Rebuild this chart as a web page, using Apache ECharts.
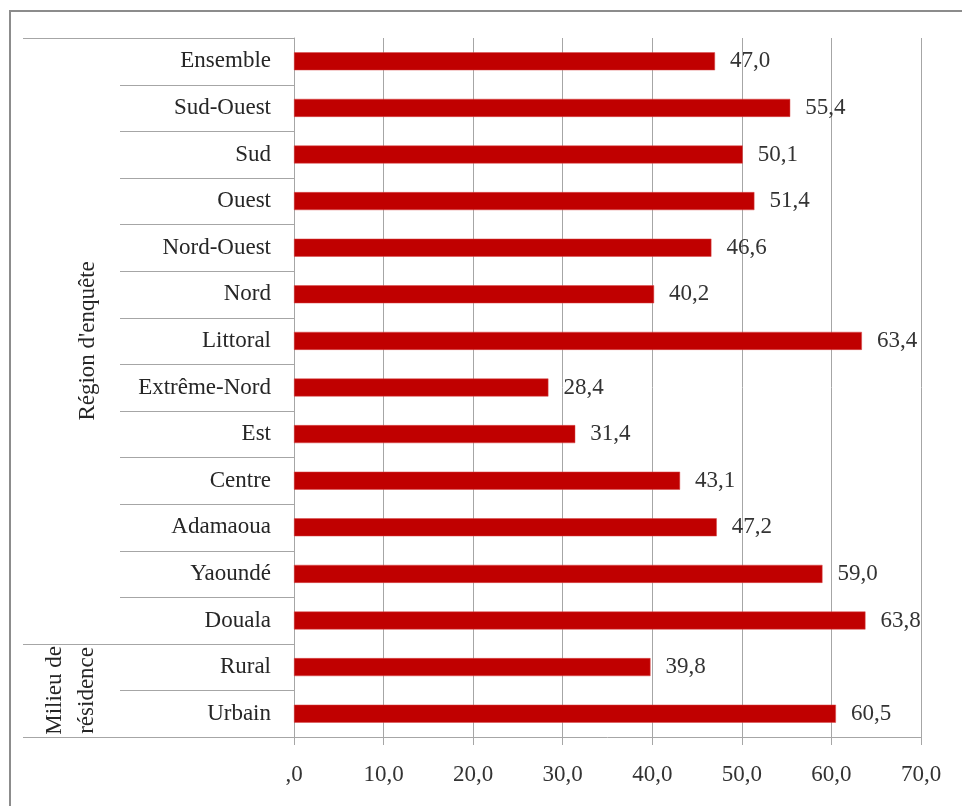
<!DOCTYPE html>
<html>
<head>
<meta charset="utf-8">
<script src="https://cdn.jsdelivr.net/npm/echarts@6/dist/echarts.min.js"></script>
<style>
html,body{margin:0;padding:0;background:#fff;}
#chart{width:962px;height:806px;}
</style>
</head>
<body>
<div id="chart"></div>
<script>
// Categories listed top to bottom
const categories = ['Ensemble','Sud-Ouest','Sud','Ouest','Nord-Ouest','Nord','Littoral','Extrême-Nord','Est','Centre','Adamaoua','Yaoundé','Douala','Rural','Urbain'];
const values = [47.0,55.4,50.1,51.4,46.6,40.2,63.4,28.4,31.4,43.1,47.2,59.0,63.8,39.8,60.5];
const groupNames = ["Région d'enquête", 'Milieu de\nrésidence'];
const groupSizes = [13, 2];
const xMin = 0, xMax = 70, xStep = 10;

const FONT = 'Liberation Serif';
const GRID_COLOR = '#a6a6a6';

const chart = echarts.init(document.getElementById('chart'), null, {renderer: 'canvas'});

function fmt(v) {
  if (v === 0) return ',0';
  return v.toFixed(1).replace('.', ',');
}

chart.setOption({
  animation: false,
  backgroundColor: '#fff',
  grid: {left: 294, right: 41, top: 38, bottom: 69, containLabel: false},
  xAxis: {
    type: 'value', min: xMin, max: xMax, interval: xStep,
    axisLine: {show: true, lineStyle: {color: GRID_COLOR, width: 1}},
    axisTick: {show: true, length: 8, lineStyle: {color: GRID_COLOR}},
    splitLine: {show: true, lineStyle: {color: GRID_COLOR, width: 1}},
    axisLabel: {formatter: fmt, fontFamily: FONT, fontSize: 23, color: '#333', margin: 26}
  },
  yAxis: {
    type: 'category', data: categories, inverse: true,
    axisLine: {show: true, lineStyle: {color: GRID_COLOR, width: 1}},
    axisTick: {show: false},
    axisLabel: {fontFamily: FONT, fontSize: 23, color: '#262626', margin: 23, padding: [4, 0, 0, 0]}
  },
  series: [{
    type: 'bar', data: values, barWidth: 18,
    itemStyle: {color: '#c00000', borderColor: '#d84a4a', borderWidth: 0.5},
    label: {show: true, position: 'right', distance: 15, formatter: p => fmt(p.value),
      fontFamily: FONT, fontSize: 23, color: '#333', padding: [4, 0, 0, 0]}
  }]
});

function addDecorations() {
  const c0 = chart.convertToPixel({gridIndex: 0}, [xMin, 0]);
  const c1 = chart.convertToPixel({gridIndex: 0}, [xMin, 1]);
  const x0 = Math.round(c0[0]) + 0.5;
  const bw = c1[1] - c0[1];
  const top = c0[1] - bw / 2;
  const groupBounds = [0];
  groupSizes.forEach(s => groupBounds.push(groupBounds[groupBounds.length - 1] + s));
  const els = [];
  // outer frame
  els.push({type: 'rect', shape: {x: 10, y: 11, width: 980, height: 820},
    style: {fill: 'none', stroke: '#8c8c8c', lineWidth: 2}, silent: true});
  for (let k = 0; k <= categories.length; k++) {
    const y = Math.round(top + k * bw) + 0.5;
    const isGroup = groupBounds.indexOf(k) >= 0;
    els.push({type: 'line', shape: {x1: isGroup ? 23 : 120, y1: y, x2: x0, y2: y},
      style: {stroke: GRID_COLOR, lineWidth: 1}, silent: true});
  }
  const groupX = [88, 71];
  groupNames.forEach((name, g) => {
    const yc = top + (groupBounds[g] + groupBounds[g + 1]) / 2 * bw;
    els.push({type: 'text', x: groupX[g], y: yc, rotation: Math.PI / 2,
      style: {text: name, fontFamily: FONT, fontSize: 23, fill: '#262626',
        align: 'center', verticalAlign: 'middle', lineHeight: 32}, silent: true});
  });
  chart.setOption({graphic: {elements: els}});
}
addDecorations();
</script>
</body>
</html>
